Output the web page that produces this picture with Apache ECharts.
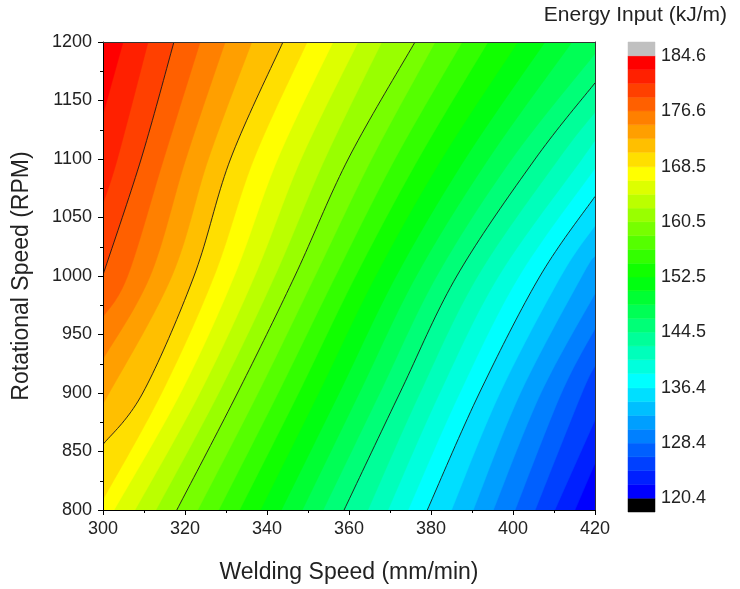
<!DOCTYPE html>
<html><head><meta charset="utf-8">
<script src="https://cdn.jsdelivr.net/npm/echarts@6/dist/echarts.min.js"></script>
<style>html,body{margin:0;padding:0;background:#fff}#c{width:740px;height:589px}</style>
</head><body><div id="c"></div>
<script>
// ---- data ----
const speedRange = [300, 420];
const rpmRange = [800, 1200];
const contourLevels = [120.4,122.4,124.4,126.4,128.4,130.4,132.4,134.4,136.4,138.5,140.5,142.5,144.5,146.5,148.5,150.5,152.5,154.5,156.5,158.5,160.5,162.5,164.5,166.5,168.5,170.6,172.6,174.6,176.6,178.6,180.6,182.6,184.6];
const bandColors = ['#0000ff','#0020ff','#0040ff','#0060ff','#0080ff','#009fff','#00bfff','#00dfff','#00ffff','#00ffdd','#00ffbb','#00ff99','#00ff77','#00ff55','#00ff33','#00ff11','#11ff00','#33ff00','#55ff00','#77ff00','#99ff00','#bbff00','#ddff00','#ffff00','#ffdf00','#ffbf00','#ff9f00','#ff8000','#ff6000','#ff4000','#ff2000','#ff0000'];
const overColor = '#c0c0c0';
const underColor = '#000000';
const colorbarTicks = [120.4,128.4,136.4,144.5,152.5,160.5,168.5,176.6,184.6];
const colorbarRange = [118.4, 186.6];
const rowRpm = [800, 900, 1000, 1100, 1200];
// speed where each contour boundary k=1..31 crosses a row (null = does not cross)
const speedAt800  = [415.1,410.2,405.4,400.5,395.2,390.3,385.0,379.1,374.4,369.5,364.6,358.8,353.7,348.6,343.5,338.4,333.3,328.2,323.1,318.0,312.9,307.8,302.7,null,null,null,null,null,null,null,null];
const speedAt900  = [null,null,416.8,411.8,406.8,401.8,396.8,391.8,387.0,382.1,377.3,372.4,367.5,362.5,357.6,352.6,347.7,342.7,337.8,332.8,328.2,323.6,318.9,314.3,309.7,301.5,null,null,null,null,null];
const speedAt1000 = [null,null,null,null,null,416.8,411.7,406.6,401.5,396.5,391.4,386.3,381.4,376.4,371.5,366.5,361.6,356.7,351.7,346.8,341.9,337.0,332.0,327.1,322.2,316.8,311.5,306.0,null,null,null];
const speedAt1100 = [null,null,null,null,null,null,null,null,null,416.8,411.1,405.4,399.7,394.0,388.3,382.6,376.9,371.2,365.5,359.8,354.1,348.3,342.6,336.8,331.1,325.7,320.2,314.8,309.3,303.5,null];
const speedAt1200 = [null,null,null,null,null,null,null,null,null,null,null,null,null,414.4,407.8,401.2,393.9,387.6,381.0,376.1,368.0,362.2,356.1,349.8,343.9,336.3,329.8,323.7,317.3,311.0,304.9];
// rpm where boundary crosses the left (300) / right (420) edge
const leftEdgeRpm  = [null,null,null,null,null,null,null,null,null,null,null,null,null,null,null,null,null,null,null,null,null,null,null,809,856,893,929,965,1001,1062,1138];
const rightEdgeRpm = [840,877,923,955,985,1017,1043,1068,1092,1116,1140,1165,1190,null,null,null,null,null,null,null,null,null,null,null,null,null,null,null,null,null,null];
const lineBoundaries = [8, 12, 20, 25, 29];

// ---- helpers ----
const rowSpeeds = [speedAt800, speedAt900, speedAt1000, speedAt1100, speedAt1200];
function boundaryPoints(k) {
  const i = k - 1, pts = [];
  if (leftEdgeRpm[i] != null) pts.push([speedRange[0], leftEdgeRpm[i]]);
  rowSpeeds.forEach((arr, r) => { if (arr[i] != null) pts.push([arr[i], rowRpm[r]]); });
  if (rightEdgeRpm[i] != null) pts.push([speedRange[1], rightEdgeRpm[i]]);
  return pts;
}
function spline(px) {
  if (px.length < 3) return px.slice();
  const out = [], n = px.length, S = 20;
  for (let i = 0; i < n - 1; i++) {
    const p0 = px[Math.max(i - 1, 0)], p1 = px[i], p2 = px[i + 1], p3 = px[Math.min(i + 2, n - 1)];
    for (let s = 0; s < S; s++) {
      const t = s / S, t2 = t * t, t3 = t2 * t;
      const f = d => 0.5 * (2 * p1[d] + (-p0[d] + p2[d]) * t + (2 * p0[d] - 5 * p1[d] + 4 * p2[d] - p3[d]) * t2 + (-p0[d] + 3 * p1[d] - 3 * p2[d] + p3[d]) * t3);
      out.push([f(0), f(1)]);
    }
  }
  out.push(px[n - 1]);
  return out;
}

const chart = echarts.init(document.getElementById('c'), null, {renderer: 'canvas'});
const font = 'Liberation Sans, Arial, sans-serif';

const fillData = bandColors.map((c, i) => [speedRange[0], rpmRange[0], i]);
const lineData = lineBoundaries.map(k => [speedRange[0], rpmRange[0], k]);
const cbData = [[0, colorbarRange[0], -1]].concat(bandColors.map((c, i) => [0, contourLevels[i], i])).concat([[0, contourLevels[32], 32]]);

const option = {
  animation: false,
  backgroundColor: '#fff',
  grid: [
    {left: 103, right: 145, top: 42, bottom: 78, containLabel: false},
    {left: 628, width: 27, top: 42, bottom: 77}
  ],
  xAxis: [
    {gridIndex: 0, type: 'value', min: speedRange[0], max: speedRange[1], interval: 20, z: 5,
     name: 'Welding Speed (mm/min)', nameLocation: 'middle', nameGap: 51,
     nameTextStyle: {fontSize: 23, color: '#222', fontFamily: font},
     axisLine: {show: true, onZero: false, lineStyle: {color: '#000', width: 1}},
     axisTick: {show: true, inside: false, length: 5, lineStyle: {color: '#000'}},
     minorTick: {show: true, splitNumber: 2, length: 3, lineStyle: {color: '#000'}},
     splitLine: {show: false},
     axisLabel: {fontSize: 18, color: '#222', margin: 10, fontFamily: font, formatter: v => String(v)}},
    {gridIndex: 0, type: 'value', position: 'top', min: speedRange[0], max: speedRange[1], z: 5,
     axisLine: {show: true, onZero: false, lineStyle: {color: '#333', width: 1}},
     axisTick: {show: false}, axisLabel: {show: false}, splitLine: {show: false}},
    {gridIndex: 1, type: 'value', min: 0, max: 1, show: false}
  ],
  yAxis: [
    {gridIndex: 0, type: 'value', min: rpmRange[0], max: rpmRange[1], interval: 50, z: 5,
     name: 'Rotational Speed (RPM)', nameLocation: 'middle', nameGap: 70,
     nameTextStyle: {fontSize: 23, color: '#222', fontFamily: font},
     axisLine: {show: true, onZero: false, lineStyle: {color: '#000', width: 1}},
     axisTick: {show: true, inside: false, length: 5, lineStyle: {color: '#000'}},
     minorTick: {show: true, splitNumber: 2, length: 3, lineStyle: {color: '#000'}},
     splitLine: {show: false},
     axisLabel: {fontSize: 18, color: '#222', margin: 11, fontFamily: font, formatter: v => String(v)}},
    {gridIndex: 0, type: 'value', position: 'right', min: rpmRange[0], max: rpmRange[1], z: 5,
     axisLine: {show: true, onZero: false, lineStyle: {color: '#333', width: 1}},
     axisTick: {show: false}, axisLabel: {show: false}, splitLine: {show: false}},
    {gridIndex: 1, type: 'value', position: 'right', min: colorbarRange[0], max: colorbarRange[1],
     axisLine: {show: false}, axisTick: {show: false}, splitLine: {show: false},
     axisLabel: {show: true, fontSize: 18, color: '#222', margin: 6, fontFamily: font,
       customValues: colorbarTicks, formatter: v => v.toFixed(1)}}
  ],
  graphic: [
    {type: 'text', right: 13, top: 5, style: {text: 'Energy Input (kJ/m)', fontSize: 21, fill: '#222', fontFamily: font}}
  ],
  series: [
    {type: 'custom', xAxisIndex: 0, yAxisIndex: 0, clip: true, z: 2, data: fillData,
     renderItem: function (params, api) {
       const k = api.value(2);
       const c = p => api.coord(p);
       if (k === 0) {
         const a = c([speedRange[0], rpmRange[1]]), b = c([speedRange[1], rpmRange[0]]);
         return {type: 'rect', shape: {x: a[0], y: a[1], width: b[0] - a[0], height: b[1] - a[1]}, style: {fill: bandColors[0]}};
       }
       const raw = boundaryPoints(k);
       const pts = spline(raw.map(c));
       const first = raw[0], last = raw[raw.length - 1];
       if (last[0] >= speedRange[1] && last[1] < rpmRange[1]) pts.push(c([speedRange[1], rpmRange[1]]));
       pts.push(c([speedRange[0], rpmRange[1]]));
       if (first[1] <= rpmRange[0] && first[0] > speedRange[0]) pts.push(c([speedRange[0], rpmRange[0]]));
       return {type: 'polygon', shape: {points: pts}, style: {fill: bandColors[k], stroke: bandColors[k], lineWidth: 0.5}};
     }},
    {type: 'custom', xAxisIndex: 0, yAxisIndex: 0, clip: true, z: 3, data: lineData,
     renderItem: function (params, api) {
       const k = api.value(2);
       const pts = spline(boundaryPoints(k).map(p => api.coord(p)));
       return {type: 'polyline', shape: {points: pts}, style: {stroke: '#1a1a1a', lineWidth: 0.9, fill: null}};
     }},
    {type: 'custom', xAxisIndex: 2, yAxisIndex: 2, z: 2, data: cbData,
     renderItem: function (params, api) {
       const i = api.value(2);
       let lo, hi, col;
       if (i === -1) { lo = colorbarRange[0]; hi = contourLevels[0]; col = underColor; }
       else if (i === 32) { lo = contourLevels[32]; hi = colorbarRange[1]; col = overColor; }
       else { lo = contourLevels[i]; hi = contourLevels[i + 1]; col = bandColors[i]; }
       const a = api.coord([0, hi]), b = api.coord([1, lo]);
       return {type: 'rect', shape: {x: a[0], y: a[1], width: b[0] - a[0], height: b[1] - a[1]}, style: {fill: col, stroke: col, lineWidth: 0.5}};
     }}
  ]
};
chart.setOption(option);
</script>
</body></html>
